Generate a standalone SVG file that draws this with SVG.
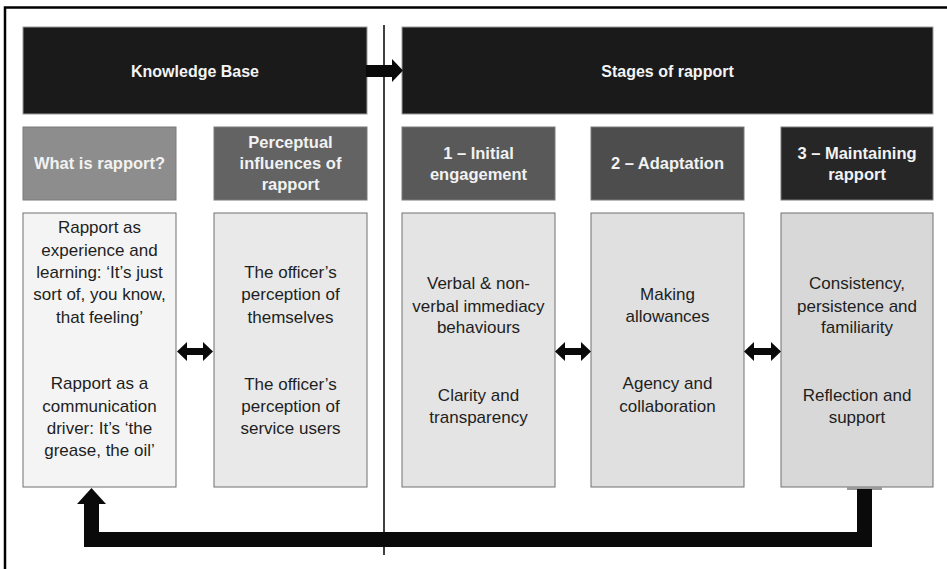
<svg xmlns="http://www.w3.org/2000/svg" width="947" height="569" viewBox="0 0 947 569">
  <style>
    .frame { stroke: #000; stroke-width: 2.5; fill: none; }
    .divider { stroke: #111; stroke-width: 1.6; fill: none; }
    .banner { fill: #1a1a1a; stroke: #9a9a9a; stroke-width: 1; }
    .head { stroke: #7a7a7a; stroke-width: 1; }
    .body { stroke: #707070; stroke-width: 1; }
    .arrow { fill: #0a0a0a; stroke: none; }
    .t-banner { font-family: "Liberation Sans", Arial, sans-serif; font-weight: bold; font-size: 16px; fill: #f4f4f4; text-anchor: middle; }
    .t-head { font-family: "Liberation Sans", Arial, sans-serif; font-weight: bold; font-size: 16.5px; fill: #f2f2f2; text-anchor: middle; }
    .t-body { font-family: "Liberation Sans", Arial, sans-serif; font-size: 17px; fill: #1e1e1e; text-anchor: middle; }
  </style>

  <rect width="947" height="569" fill="#ffffff"/>

  <!-- outer frame (top and left edges) -->
  <path class="frame" d="M5 569 V7.5 H947"/>

  <!-- divider between the two halves -->
  <line class="divider" x1="384" y1="25" x2="384" y2="555"/>

  <!-- banners -->
  <g id="knowledge-base">
    <rect class="banner" x="23" y="27" width="344" height="87"/>
    <text class="t-banner" x="195" y="77">Knowledge Base</text>
  </g>
  <g id="stages-of-rapport">
    <rect class="banner" x="402" y="27" width="531" height="87"/>
    <text class="t-banner" x="667.5" y="77">Stages of rapport</text>
  </g>

  <!-- column headers -->
  <g id="what-is-rapport">
    <rect class="head" x="23" y="127" width="153" height="73" fill="#8d8d8d"/>
    <text class="t-head" x="99.5" y="169">What is rapport?</text>
  </g>
  <g id="perceptual-influences">
    <rect class="head" x="214" y="127" width="153" height="73" fill="#636363"/>
    <text class="t-head" x="290.5" y="148">Perceptual</text>
    <text class="t-head" x="290.5" y="169">influences of</text>
    <text class="t-head" x="290.5" y="190">rapport</text>
  </g>
  <g id="stage-1">
    <rect class="head" x="402" y="127" width="153" height="73" fill="#595959"/>
    <text class="t-head" x="478.5" y="159">1 – Initial</text>
    <text class="t-head" x="478.5" y="180">engagement</text>
  </g>
  <g id="stage-2">
    <rect class="head" x="591" y="127" width="153" height="73" fill="#4d4d4d"/>
    <text class="t-head" x="667.5" y="169">2 – Adaptation</text>
  </g>
  <g id="stage-3">
    <rect class="head" x="781" y="127" width="152" height="73" fill="#262626"/>
    <text class="t-head" x="857" y="159">3 – Maintaining</text>
    <text class="t-head" x="857" y="180">rapport</text>
  </g>

  <!-- content boxes -->
  <g id="rapport-content">
    <rect class="body" x="23" y="213" width="153" height="274" fill="#f4f4f4"/>
    <text class="t-body" x="99.5" y="233">Rapport as</text>
    <text class="t-body" x="99.5" y="256">experience and</text>
    <text class="t-body" x="99.5" y="278">learning: ‘It’s just</text>
    <text class="t-body" x="99.5" y="300">sort of, you know,</text>
    <text class="t-body" x="99.5" y="323">that feeling’</text>
    <text class="t-body" x="99.5" y="389">Rapport as a</text>
    <text class="t-body" x="99.5" y="412">communication</text>
    <text class="t-body" x="99.5" y="434">driver: It’s ‘the</text>
    <text class="t-body" x="99.5" y="456">grease, the oil’</text>
  </g>
  <g id="perceptual-content">
    <rect class="body" x="214" y="213" width="153" height="274" fill="#e9e9e9"/>
    <text class="t-body" x="290.5" y="278">The officer’s</text>
    <text class="t-body" x="290.5" y="300">perception of</text>
    <text class="t-body" x="290.5" y="323">themselves</text>
    <text class="t-body" x="290.5" y="390">The officer’s</text>
    <text class="t-body" x="290.5" y="412">perception of</text>
    <text class="t-body" x="290.5" y="434">service users</text>
  </g>
  <g id="stage-1-content">
    <rect class="body" x="402" y="213" width="153" height="274" fill="#e4e4e4"/>
    <text class="t-body" x="478.5" y="289">Verbal &amp; non-</text>
    <text class="t-body" x="478.5" y="312">verbal immediacy</text>
    <text class="t-body" x="478.5" y="333">behaviours</text>
    <text class="t-body" x="478.5" y="401">Clarity and</text>
    <text class="t-body" x="478.5" y="423">transparency</text>
  </g>
  <g id="stage-2-content">
    <rect class="body" x="591" y="213" width="153" height="274" fill="#e0e0e0"/>
    <text class="t-body" x="667.5" y="300">Making</text>
    <text class="t-body" x="667.5" y="322">allowances</text>
    <text class="t-body" x="667.5" y="389">Agency and</text>
    <text class="t-body" x="667.5" y="412">collaboration</text>
  </g>
  <g id="stage-3-content">
    <rect class="body" x="781" y="213" width="152" height="274" fill="#d8d8d8"/>
    <text class="t-body" x="857" y="289">Consistency,</text>
    <text class="t-body" x="857" y="312">persistence and</text>
    <text class="t-body" x="857" y="333">familiarity</text>
    <text class="t-body" x="857" y="401">Reflection and</text>
    <text class="t-body" x="857" y="423">support</text>
  </g>

  <!-- connectors -->
  <g id="connectors">
    <!-- knowledge base to stages -->
    <polygon class="arrow" points="366,65 392,65 392,59 403,70.5 392,82 392,77 366,77"/>
    <!-- two-way links between content boxes -->
    <polygon class="arrow" points="177,351.5 187,342 187,348 203,348 203,342 213,351.5 203,361 203,355 187,355 187,361"/>
    <polygon class="arrow" points="555,351.5 565,342 565,348 581,348 581,342 591,351.5 581,361 581,355 565,355 565,361"/>
    <polygon class="arrow" points="744,351.5 754,342 754,348 771,348 771,342 781,351.5 771,361 771,355 754,355 754,361"/>
    <!-- feedback loop from maintaining rapport back to the start -->
    <rect x="847" y="487" width="35" height="3" fill="#9a9a9a"/>
    <polygon class="arrow" points="857,489 872,489 872,547 84,547 84,504 77,504 91.5,488 106,504 99,504 99,532 857,532"/>
  </g>
</svg>
